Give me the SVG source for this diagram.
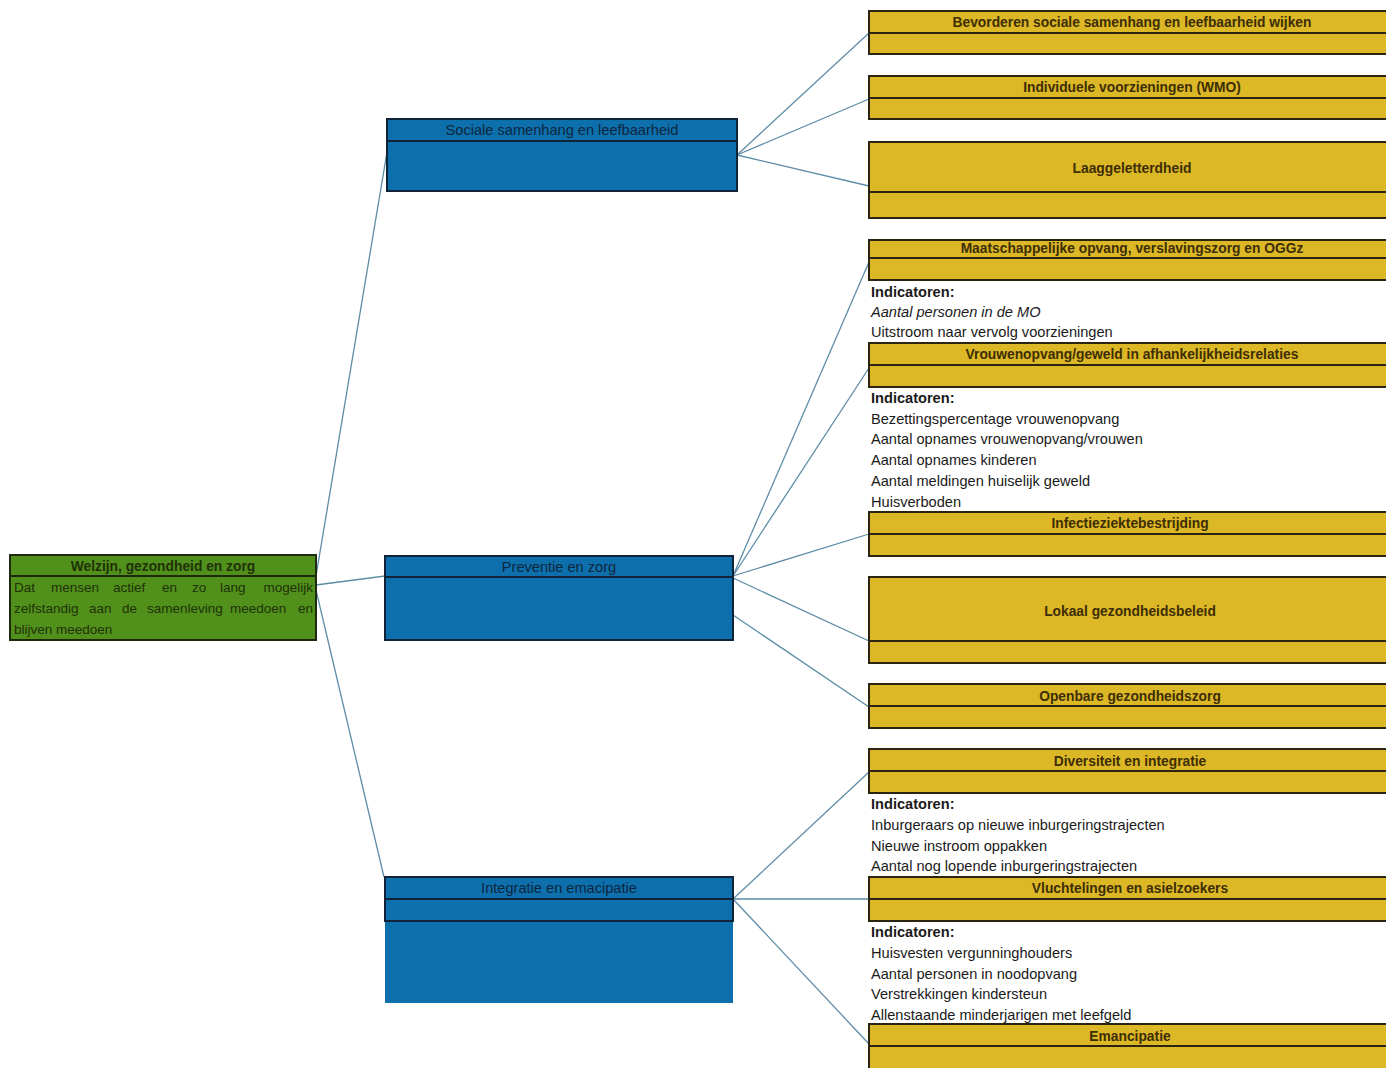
<svg xmlns="http://www.w3.org/2000/svg" width="1386" height="1068" viewBox="0 0 1386 1068">
<style>
.green{fill:#51901b;stroke:#1e2a10;stroke-width:2}
.blue{fill:#0d6fab;stroke:#0f2438;stroke-width:2}
.bluefill{fill:#0d6fab}
.yel{fill:#dcb726;stroke:#2a2410;stroke-width:2}
.div{stroke-width:2;fill:none}
.ttl{font-family:"Liberation Sans",Arial,sans-serif;font-weight:bold;font-size:13.8px;text-anchor:middle}
.yt{fill:#3d2e05}
.bt{fill:#0e2740;font-weight:normal;font-size:14.6px}
.gt{fill:#1f3208}
.body{font-family:"Liberation Sans",Arial,sans-serif;font-size:13.5px;fill:#1f3208}
.ind{font-family:"Liberation Sans",Arial,sans-serif;font-size:14.6px;fill:#1a1a1a}
.indh{font-weight:bold}
.conn line{stroke:#5d8ca6;stroke-width:1.3}
</style>
<rect width="1386" height="1068" fill="#ffffff"/>
<g class="conn" id="connectors">
<line x1="316" y1="576" x2="387" y2="152"/>
<line x1="316" y1="585" x2="385" y2="576"/>
<line x1="316" y1="590" x2="384" y2="877"/>
<line x1="737" y1="155" x2="869" y2="33"/>
<line x1="737" y1="155" x2="869" y2="99"/>
<line x1="737" y1="155" x2="869" y2="186"/>
<line x1="733" y1="576" x2="869" y2="262"/>
<line x1="733" y1="576" x2="869" y2="368"/>
<line x1="733" y1="576" x2="869" y2="534"/>
<line x1="733" y1="578" x2="869" y2="641"/>
<line x1="733" y1="615" x2="869" y2="707"/>
<line x1="733" y1="899" x2="869" y2="772"/>
<line x1="733" y1="899" x2="869" y2="899"/>
<line x1="733" y1="899" x2="869" y2="1044"/>
</g>
<g id="n-welzijn">
<rect class="green" x="10" y="555" width="306" height="85"/>
<line class="div" stroke="#1e2a10" x1="10" y1="576" x2="316" y2="576"/>
<text class="ttl gt" x="163" y="571">Welzijn, gezondheid en zorg</text>
<text class="body" y="592"><tspan x="14">Dat</tspan><tspan x="51">mensen</tspan><tspan x="113">actief</tspan><tspan x="162">en</tspan><tspan x="192">zo</tspan><tspan x="220">lang</tspan><tspan x="313" text-anchor="end">mogelijk</tspan></text>
<text class="body" y="613"><tspan x="14">zelfstandig</tspan><tspan x="89">aan</tspan><tspan x="122">de</tspan><tspan x="147">samenleving</tspan><tspan x="230">meedoen</tspan><tspan x="313" text-anchor="end">en</tspan></text>
<text class="body" x="14" y="634">blijven meedoen</text>
</g>
<g id="n-sociale">
<rect class="blue" x="387" y="119" width="350" height="72"/>
<line class="div" stroke="#0f2438" x1="387" y1="141" x2="737" y2="141"/>
<text class="ttl bt" x="562" y="135">Sociale samenhang en leefbaarheid</text>
</g>
<g id="n-preventie">
<rect class="blue" x="385" y="556" width="348" height="84"/>
<line class="div" stroke="#0f2438" x1="385" y1="577" x2="733" y2="577"/>
<text class="ttl bt" x="559" y="572">Preventie en zorg</text>
</g>
<g id="n-integratie">
<rect class="bluefill" x="385" y="877" width="348" height="126"/>
<rect class="blue" x="385" y="877" width="348" height="44"/>
<line class="div" stroke="#0f2438" x1="385" y1="899" x2="733" y2="899"/>
<text class="ttl bt" x="559" y="893">Integratie en emacipatie</text>
</g>
<g id="n-bevorderen">
<rect class="yel" x="869" y="11" width="525" height="43"/>
<line class="div" stroke="#2a2410" x1="869" y1="33" x2="1394" y2="33"/>
<text class="ttl yt" x="1132" y="27">Bevorderen sociale samenhang en leefbaarheid wijken</text>
</g>
<g id="n-individuele">
<rect class="yel" x="869" y="76" width="525" height="43"/>
<line class="div" stroke="#2a2410" x1="869" y1="98" x2="1394" y2="98"/>
<text class="ttl yt" x="1132" y="92">Individuele voorzieningen (WMO)</text>
</g>
<g id="n-laaggeletterdheid">
<rect class="yel" x="869" y="142" width="525" height="76"/>
<line class="div" stroke="#2a2410" x1="869" y1="192" x2="1394" y2="192"/>
<text class="ttl yt" x="1132" y="173">Laaggeletterdheid</text>
</g>
<g id="n-maatschappelijke">
<rect class="yel" x="869" y="240" width="525" height="40"/>
<line class="div" stroke="#2a2410" x1="869" y1="258" x2="1394" y2="258"/>
<text class="ttl yt" x="1132" y="253">Maatschappelijke opvang, verslavingszorg en OGGz</text>
<text class="ind indh" x="871" y="297">Indicatoren:</text>
<text class="ind" x="871" y="317" font-style="italic">Aantal personen in de MO</text>
<text class="ind" x="871" y="337">Uitstroom naar vervolg voorzieningen</text>
</g>
<g id="n-vrouwenopvang">
<rect class="yel" x="869" y="343" width="525" height="44"/>
<line class="div" stroke="#2a2410" x1="869" y1="365" x2="1394" y2="365"/>
<text class="ttl yt" x="1132" y="359">Vrouwenopvang/geweld in afhankelijkheidsrelaties</text>
<text class="ind indh" x="871" y="403">Indicatoren:</text>
<text class="ind" x="871" y="424">Bezettingspercentage vrouwenopvang</text>
<text class="ind" x="871" y="444">Aantal opnames vrouwenopvang/vrouwen</text>
<text class="ind" x="871" y="465">Aantal opnames kinderen</text>
<text class="ind" x="871" y="486">Aantal meldingen huiselijk geweld</text>
<text class="ind" x="871" y="507">Huisverboden</text>
</g>
<g id="n-infectie">
<rect class="yel" x="869" y="512" width="525" height="44"/>
<line class="div" stroke="#2a2410" x1="869" y1="534" x2="1394" y2="534"/>
<text class="ttl yt" x="1130" y="528">Infectieziektebestrijding</text>
</g>
<g id="n-lokaal">
<rect class="yel" x="869" y="577" width="525" height="86"/>
<line class="div" stroke="#2a2410" x1="869" y1="641" x2="1394" y2="641"/>
<text class="ttl yt" x="1130" y="616">Lokaal gezondheidsbeleid</text>
</g>
<g id="n-openbare">
<rect class="yel" x="869" y="684" width="525" height="44"/>
<line class="div" stroke="#2a2410" x1="869" y1="706" x2="1394" y2="706"/>
<text class="ttl yt" x="1130" y="701">Openbare gezondheidszorg</text>
</g>
<g id="n-diversiteit">
<rect class="yel" x="869" y="749" width="525" height="44"/>
<line class="div" stroke="#2a2410" x1="869" y1="771" x2="1394" y2="771"/>
<text class="ttl yt" x="1130" y="766">Diversiteit en integratie</text>
<text class="ind indh" x="871" y="809">Indicatoren:</text>
<text class="ind" x="871" y="830">Inburgeraars op nieuwe inburgeringstrajecten</text>
<text class="ind" x="871" y="851">Nieuwe instroom oppakken</text>
<text class="ind" x="871" y="871">Aantal nog lopende inburgeringstrajecten</text>
</g>
<g id="n-vluchtelingen">
<rect class="yel" x="869" y="877" width="525" height="44"/>
<line class="div" stroke="#2a2410" x1="869" y1="899" x2="1394" y2="899"/>
<text class="ttl yt" x="1130" y="893">Vluchtelingen en asielzoekers</text>
<text class="ind indh" x="871" y="937">Indicatoren:</text>
<text class="ind" x="871" y="958">Huisvesten vergunninghouders</text>
<text class="ind" x="871" y="979">Aantal personen in noodopvang</text>
<text class="ind" x="871" y="999">Verstrekkingen kindersteun</text>
<text class="ind" x="871" y="1020">Allenstaande minderjarigen met leefgeld</text>
</g>
<g id="n-emancipatie">
<rect class="yel" x="869" y="1024" width="525" height="60"/>
<line class="div" stroke="#2a2410" x1="869" y1="1046" x2="1394" y2="1046"/>
<text class="ttl yt" x="1130" y="1041">Emancipatie</text>
</g>
</svg>
